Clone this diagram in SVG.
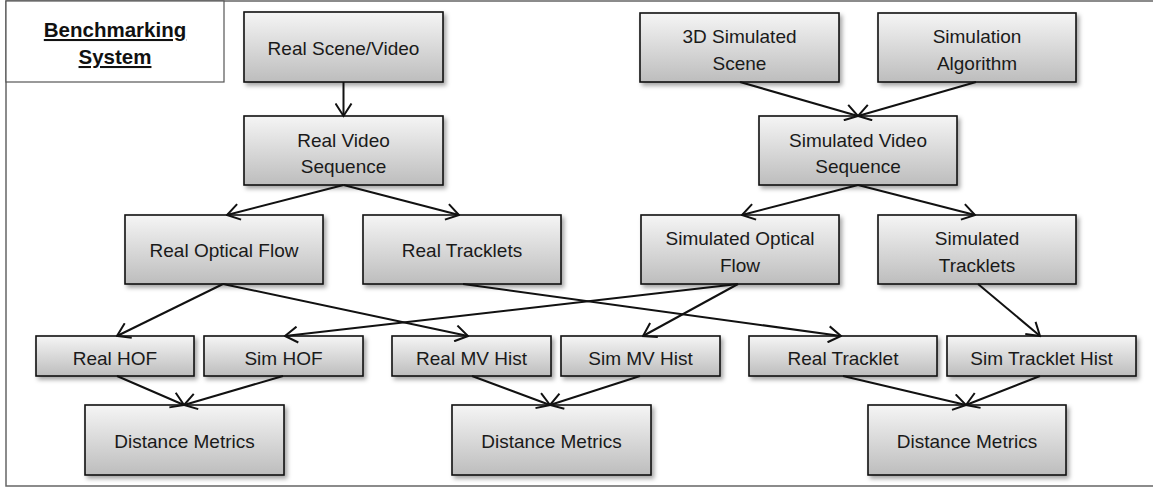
<svg xmlns="http://www.w3.org/2000/svg" width="1153" height="490" viewBox="0 0 1153 490">
<style>
.box{fill:url(#g);stroke:#111;stroke-width:1.6;filter:url(#sh)}
.t{font-family:"Liberation Sans",Arial,sans-serif;font-size:19px;fill:#1a1a1a;text-anchor:middle}
.ttl{font-family:"Liberation Sans",Arial,sans-serif;font-size:20.5px;font-weight:bold;fill:#111;text-anchor:middle;text-decoration:underline}
.c line{stroke:#111;stroke-width:2;marker-end:url(#ah)}
.frame{stroke:#666;stroke-width:1.5;fill:none}
</style>
<defs>
<linearGradient id="g" x1="0" y1="0" x2="0" y2="1">
<stop offset="0" stop-color="#f5f5f5"/>
<stop offset="1" stop-color="#bdbdbd"/>
</linearGradient>
<filter id="sh" x="-10%" y="-10%" width="130%" height="140%">
<feDropShadow dx="2.5" dy="3" stdDeviation="2" flood-color="#000" flood-opacity="0.35"/>
</filter>
<marker id="ah" viewBox="0 0 15 18" refX="13.5" refY="9" markerWidth="15" markerHeight="18" orient="auto" markerUnits="userSpaceOnUse">
<path d="M1,1 L13.5,9 L1,17" fill="none" stroke="#111" stroke-width="2"/>
</marker>
</defs>
<rect width="1153" height="490" fill="#fff"/>
<path class="frame" d="M1153,1 H6 V486 H1153"/>
<g id="title">
<rect x="6" y="1" width="218" height="81" fill="#fff" stroke="#555" stroke-width="1.2"/>
<text class="ttl" x="115" y="37">Benchmarking</text>
<text class="ttl" x="115" y="64">System</text>
</g>
<g id="n_realscene"><rect class="box" x="244" y="12" width="199" height="70"/><text class="t" x="343.5" y="55">Real Scene/Video</text></g>
<g id="n_realvideo"><rect class="box" x="244" y="116" width="199" height="69"/><text class="t" x="343.5" y="147">Real Video</text><text class="t" x="343.5" y="173">Sequence</text></g>
<g id="n_3dsim"><rect class="box" x="640" y="13" width="199" height="69"/><text class="t" x="739.5" y="43">3D Simulated</text><text class="t" x="739.5" y="70">Scene</text></g>
<g id="n_simalgo"><rect class="box" x="878" y="13" width="198" height="69"/><text class="t" x="977" y="43">Simulation</text><text class="t" x="977" y="70">Algorithm</text></g>
<g id="n_simvideo"><rect class="box" x="759" y="116" width="198" height="69"/><text class="t" x="858" y="147">Simulated Video</text><text class="t" x="858" y="173">Sequence</text></g>
<g id="n_realof"><rect class="box" x="125" y="215" width="198" height="69"/><text class="t" x="224" y="257">Real Optical Flow</text></g>
<g id="n_realtrk"><rect class="box" x="363" y="215" width="198" height="69"/><text class="t" x="462" y="257">Real Tracklets</text></g>
<g id="n_simof"><rect class="box" x="641" y="215" width="198" height="69"/><text class="t" x="740" y="245">Simulated Optical</text><text class="t" x="740" y="272">Flow</text></g>
<g id="n_simtrk"><rect class="box" x="878" y="215" width="198" height="69"/><text class="t" x="977" y="245">Simulated</text><text class="t" x="977" y="272">Tracklets</text></g>
<g id="n_realhof"><rect class="box" x="36" y="336" width="158" height="40"/><text class="t" x="115" y="365">Real HOF</text></g>
<g id="n_simhof"><rect class="box" x="204" y="336" width="159" height="40"/><text class="t" x="283.5" y="365">Sim HOF</text></g>
<g id="n_realmv"><rect class="box" x="392" y="336" width="159" height="40"/><text class="t" x="471.5" y="365">Real MV Hist</text></g>
<g id="n_simmv"><rect class="box" x="561" y="336" width="159" height="40"/><text class="t" x="640.5" y="365">Sim MV Hist</text></g>
<g id="n_realtrklet"><rect class="box" x="749" y="336" width="188" height="40"/><text class="t" x="843" y="365">Real Tracklet</text></g>
<g id="n_simtrkhist"><rect class="box" x="947" y="336" width="189" height="40"/><text class="t" x="1041.5" y="365">Sim Tracklet Hist</text></g>
<g id="n_dm1"><rect class="box" x="85" y="405" width="199" height="70"/><text class="t" x="184.5" y="448">Distance Metrics</text></g>
<g id="n_dm2"><rect class="box" x="452" y="405" width="199" height="70"/><text class="t" x="551.5" y="448">Distance Metrics</text></g>
<g id="n_dm3"><rect class="box" x="868" y="405" width="198" height="70"/><text class="t" x="967" y="448">Distance Metrics</text></g>
<g id="connectors" class="c">
<line x1="343.5" y1="82" x2="343.5" y2="116"/>
<line x1="740" y1="82" x2="858" y2="116"/>
<line x1="976" y1="82" x2="858" y2="116"/>
<line x1="343.5" y1="185" x2="227" y2="215"/>
<line x1="343.5" y1="185" x2="459" y2="215"/>
<line x1="858" y1="185" x2="742" y2="215"/>
<line x1="858" y1="185" x2="975" y2="215"/>
<line x1="223" y1="284" x2="117" y2="336"/>
<line x1="223" y1="284" x2="468" y2="336"/>
<line x1="738" y1="284" x2="285" y2="336"/>
<line x1="738" y1="284" x2="643" y2="336"/>
<line x1="463" y1="284" x2="841" y2="336"/>
<line x1="978" y1="284" x2="1040" y2="336"/>
<line x1="117" y1="376" x2="184" y2="405"/>
<line x1="283" y1="376" x2="184" y2="405"/>
<line x1="472" y1="376" x2="550" y2="405"/>
<line x1="640" y1="376" x2="550" y2="405"/>
<line x1="843" y1="376" x2="966" y2="405"/>
<line x1="1040" y1="376" x2="966" y2="405"/>
</g>
</svg>
